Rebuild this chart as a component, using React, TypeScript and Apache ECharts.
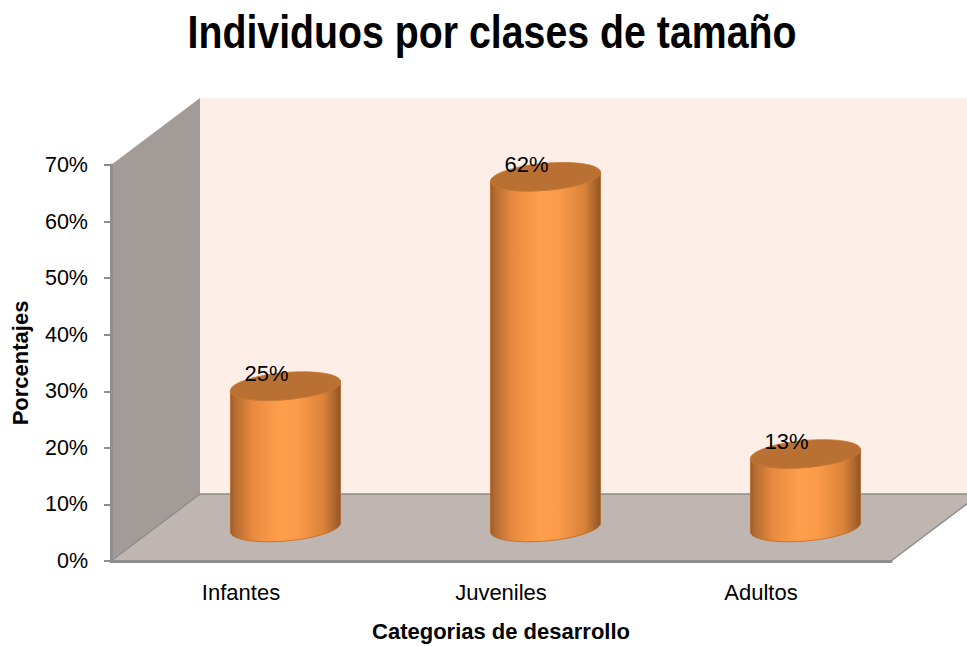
import React, { useEffect, useRef } from "react";
import * as echarts from "echarts";

const titleText = "Individuos por clases de tamaño";
const xAxisName = "Categorias de desarrollo";
const yAxisName = "Porcentajes";
const categories = ["Infantes", "Juveniles", "Adultos"];
const values = [25, 62, 13];

const FONT = '"Liberation Sans", Arial, sans-serif';
const DEPTH_X = 89;
const DEPTH_Y = 67;
const EDGE = "#8e8e8e";

function ellipsePoints(cx: number, cy: number, a: number, b: number, from: number, to: number) {
  const tilt = (5 * Math.PI) / 180;
  const n = 72;
  const pts: number[][] = [];
  for (let i = 0; i <= n; i++) {
    const t = from + ((to - from) * i) / n;
    const ex = a * Math.cos(t);
    const ey = b * Math.sin(t);
    pts.push([cx + ex * Math.cos(tilt) + ey * Math.sin(tilt), cy - ex * Math.sin(tilt) + ey * Math.cos(tilt)]);
  }
  return pts;
}

function renderRoom(params: any) {
  const c = params.coordSys;
  const x0 = c.x;
  const x1 = c.x + c.width;
  const y0 = c.y;
  const y1 = c.y + c.height;
  const line = { stroke: EDGE, lineWidth: 1.5 };
  return {
    type: "group",
    children: [
      {
        type: "rect",
        shape: { x: x0 + DEPTH_X, y: y0 - DEPTH_Y, width: c.width, height: c.height },
        style: { fill: "#fdefe8" },
      },
      {
        type: "polygon",
        shape: { points: [[x0, y0], [x0 + DEPTH_X, y0 - DEPTH_Y], [x0 + DEPTH_X, y1 - DEPTH_Y], [x0, y1]] },
        style: { fill: "#a39b97" },
      },
      {
        type: "polygon",
        shape: { points: [[x0, y1], [x1, y1], [x1 + DEPTH_X, y1 - DEPTH_Y], [x0 + DEPTH_X, y1 - DEPTH_Y]] },
        style: { fill: "#bfb5b1" },
      },
      { type: "polyline", shape: { points: [[x0, y1], [x0 + DEPTH_X, y1 - DEPTH_Y], [x1 + DEPTH_X, y1 - DEPTH_Y]] }, style: { ...line, fill: "none" } },
      { type: "polyline", shape: { points: [[x1, y1], [x1 + DEPTH_X, y1 - DEPTH_Y]] }, style: { ...line, fill: "none" } },
    ],
  };
}

function renderCylinder(_params: any, api: any) {
  const cat = api.value(0);
  const val = api.value(1);
  const size = api.size([1, 0]);
  const base = api.coord([cat, 0]);
  const top = api.coord([cat, val]);
  const cx = base[0] + DEPTH_X / 2;
  const dy = -DEPTH_Y / 2;
  const by = base[1] + dy;
  const ty = top[1] + dy;
  const a = (size[0] * 0.425) / 2;
  const b = 13.5;
  const lower = ellipsePoints(cx, by, a, b, 0, Math.PI).reverse();
  const upper = ellipsePoints(cx, ty, a, b, 0, Math.PI);
  const side = {
    type: "linear",
    x: 0,
    y: 0,
    x2: 1,
    y2: 0,
    colorStops: [
      { offset: 0, color: "#9c5c28" },
      { offset: 0.04, color: "#b46c30" },
      { offset: 0.2, color: "#e8893f" },
      { offset: 0.45, color: "#ff9f4c" },
      { offset: 0.62, color: "#fb9b49" },
      { offset: 0.85, color: "#d98239" },
      { offset: 0.95, color: "#a9662e" },
      { offset: 1, color: "#8f5626" },
    ],
  };
  return {
    type: "group",
    children: [
      {
        type: "polygon",
        shape: { points: [...upper, ...lower] },
        style: { fill: side, stroke: "#b96a2c", lineWidth: 0.8 },
      },
      {
        type: "polygon",
        shape: { points: ellipsePoints(cx, ty, a, b, 0, Math.PI * 2) },
        style: { fill: "#ba7033", stroke: "#c4772f", lineWidth: 0.8 },
      },
      {
        type: "text",
        style: {
          text: val + "%",
          x: cx - 19,
          y: ty - 12.5,
          align: "center",
          verticalAlign: "middle",
          font: `22px ${FONT}`,
          fill: "#000",
        },
      },
    ],
  };
}

export default function App() {
  const ref = useRef<HTMLDivElement>(null);
  useEffect(() => {
    document.body.style.margin = "0";
    const chart = echarts.init(ref.current!, null, { renderer: "svg" });
    chart.setOption({
      animation: false,
      backgroundColor: "#ffffff",
      graphic: [
        {
          type: "text",
          x: 492,
          y: 32,
          scaleX: 0.854,
          style: {
            text: titleText,
            align: "center",
            verticalAlign: "middle",
            font: `bold 46px ${FONT}`,
            fill: "#000",
          },
        },
      ],
      grid: { left: 111, right: 76, top: 165, bottom: 85, outerBoundsMode: "none" },
      xAxis: {
        type: "category",
        data: categories,
        z: 5,
        name: xAxisName,
        nameLocation: "middle",
        nameGap: 59,
        nameTextStyle: { fontFamily: FONT, fontWeight: "bold", fontSize: 22, color: "#000" },
        axisLine: { lineStyle: { color: EDGE, width: 3 } },
        axisTick: { show: false },
        axisLabel: { fontFamily: FONT, fontSize: 22, color: "#000", margin: 20 },
        splitLine: { show: false },
      },
      yAxis: {
        type: "value",
        min: 0,
        max: 70,
        interval: 10,
        z: 5,
        name: yAxisName,
        nameLocation: "middle",
        nameGap: 80,
        nameTextStyle: { fontFamily: FONT, fontWeight: "bold", fontSize: 22, color: "#000" },
        axisLine: { show: true, lineStyle: { color: EDGE, width: 3 } },
        axisTick: { show: true, length: 7, lineStyle: { color: EDGE, width: 2 } },
        axisLabel: { fontFamily: FONT, fontSize: 21.5, color: "#000", margin: 23, formatter: "{value}%" },
        splitLine: { show: false },
      },
      series: [
        { type: "custom", z: 1, silent: true, renderItem: renderRoom, data: [0] },
        {
          type: "custom",
          z: 6,
          renderItem: renderCylinder,
          encode: { x: 0, y: 1 },
          data: values.map((v, i) => [i, v]),
        },
      ],
    });
    return () => chart.dispose();
  }, []);
  return <div ref={ref} style={{ width: 967, height: 646 }} />;
}
